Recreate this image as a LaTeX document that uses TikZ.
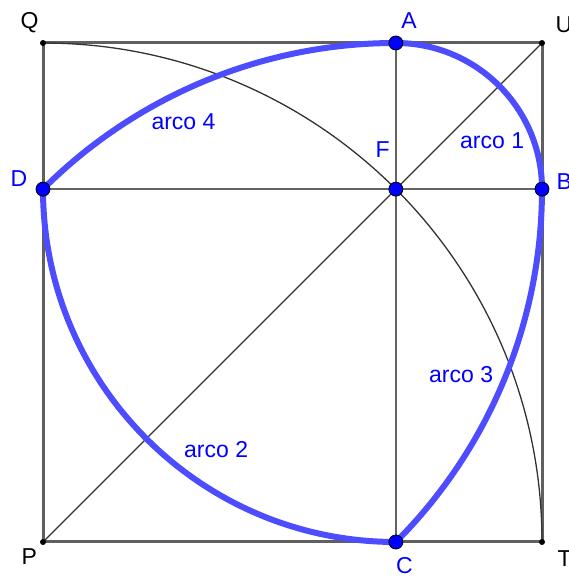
\documentclass[tikz,border=0pt]{standalone}
\usepackage{fontspec}
\setmainfont{Liberation Sans}
\definecolor{sqgray}{RGB}{96,96,96}
\definecolor{mg}{RGB}{100,100,100}
\definecolor{dk}{RGB}{50,50,50}
\definecolor{arcblue}{RGB}{77,77,255}
\definecolor{ptblue}{RGB}{0,0,255}
\begin{document}
\begin{tikzpicture}[x=1pt,y=1pt,
  sq/.style={draw=sqgray,line width=3pt},
  thinln/.style={draw=dk,line width=1.3pt},
  midln/.style={draw=mg,line width=2pt},
  arcline/.style={draw=arcblue,line width=6pt,line join=round},
  bpt/.style={circle,fill=ptblue,draw=black,line width=0.8pt,minimum size=14pt,inner sep=0pt},
  kpt/.style={circle,fill=black,minimum size=6pt,inner sep=0pt},
  lab/.style={anchor=base west,inner sep=0pt,font=\fontsize{23}{27}\selectfont},
  blab/.style={lab,text=ptblue},
]
\useasboundingbox (0,0) rectangle (569,576);
% points
\coordinate (P) at (43,34);
\coordinate (Q) at (43,533);
\coordinate (T) at (542,34);
\coordinate (U) at (542,533);
\coordinate (F) at (395.85,386.85);
\coordinate (A) at (395.85,533);
\coordinate (B) at (542,386.85);
\coordinate (C) at (395.85,34);
\coordinate (D) at (43,386.85);
% square
\draw[sq] (P) -- (T) -- (U) -- (Q) -- cycle;
% inner lines
\draw[midln] (A) -- (C);
\draw[midln] (D) -- (B);
\draw[thinln] (P) -- (U);
% quarter circle centred at P
\draw[thinln] (Q) arc[start angle=90,end angle=0,radius=499];
% blue closed curve
\draw[arcline] (A) arc[start angle=90,end angle=0,radius=146.15]
  arc[start angle=0,end angle=-45,radius=499]
  arc[start angle=270,end angle=180,radius=352.85]
  arc[start angle=135,end angle=90,radius=499] -- cycle;
% point markers
\node[kpt] (nP) at (P) {};
\node[kpt] (nQ) at (Q) {};
\node[kpt] (nT) at (T) {};
\node[kpt] (nU) at (U) {};
\node[bpt] (nA) at (A) {};
\node[bpt] (nB) at (B) {};
\node[bpt] (nC) at (C) {};
\node[bpt] (nD) at (D) {};
\node[bpt] (nF) at (F) {};
% labels
\node[lab] (lQ) at (20.5,547.7) {Q};
\node[lab] (lU) at (555.5,543) {U};
\node[lab] (lP) at (21.5,11) {P};
\node[lab] (lT) at (557.5,9.3) {T};
\node[blab] (lA) at (401.2,547.7) {A};
\node[blab] (lB) at (556.5,386) {B};
\node[blab] (lC) at (396,2.5) {C};
\node[blab] (lD) at (10.5,389.3) {D};
\node[blab] (lF) at (375.5,418.7) {F};
\node[blab] (a4) at (151.3,446.7) {arco 4};
\node[blab] (a1) at (460,427.7) {arco 1};
\node[blab] (a3) at (429,193.3) {arco 3};
\node[blab] (a2) at (184,118.3) {arco 2};
\end{tikzpicture}
\end{document}
